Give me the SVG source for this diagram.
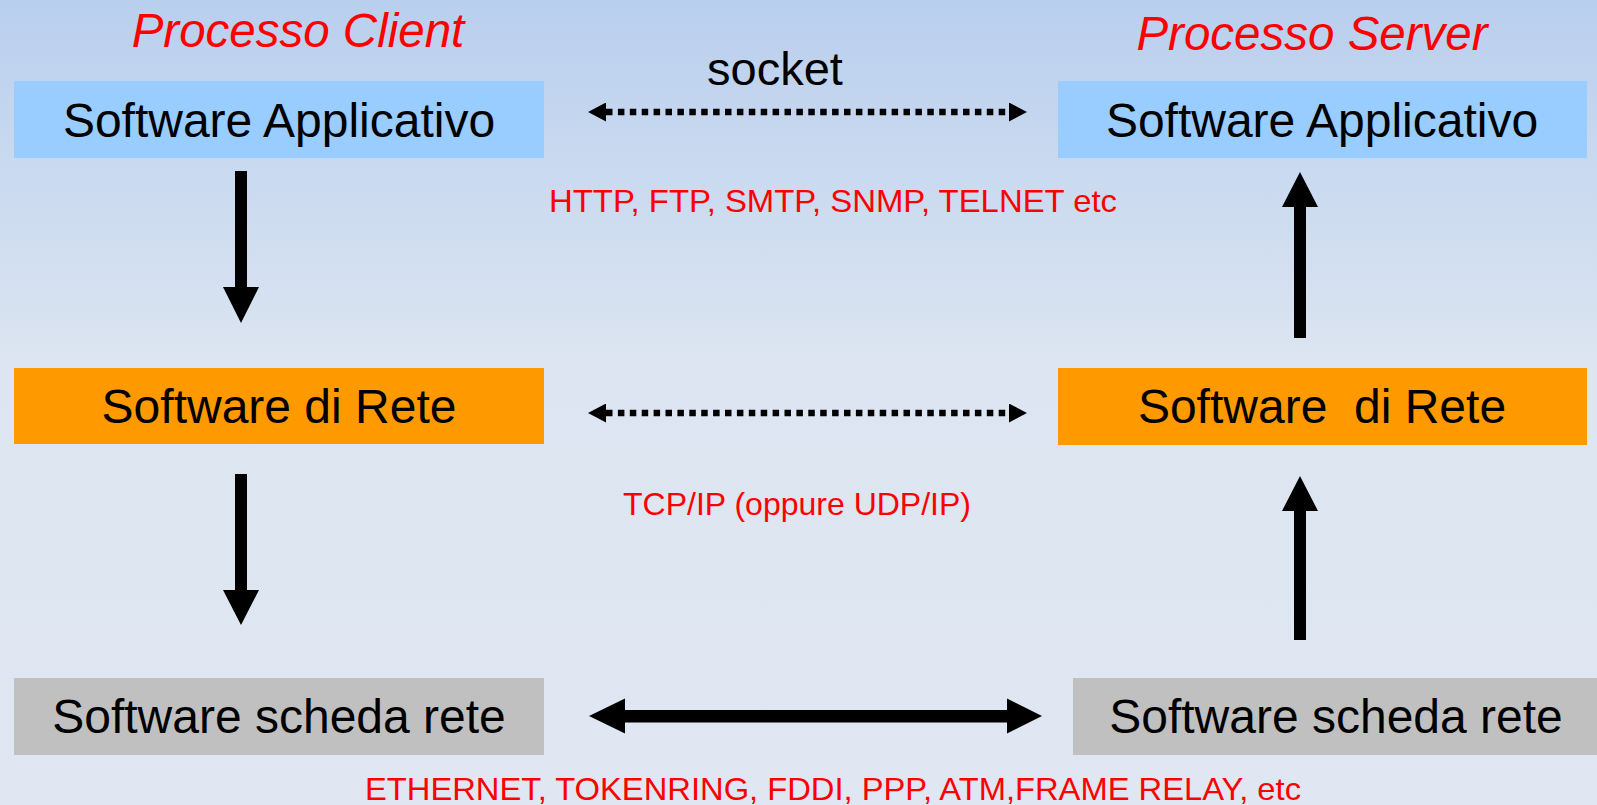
<svg xmlns="http://www.w3.org/2000/svg" width="1597" height="805" viewBox="0 0 1597 805">
  <style>
    .box-label { font-family: "Liberation Sans", Arial, sans-serif; font-size: 48px; fill: #000; text-anchor: middle; }
    .title { font-family: "Liberation Sans", Arial, sans-serif; font-size: 47.5px; font-style: italic; fill: #ff0000; text-anchor: middle; }
    .proto { font-family: "Liberation Sans", Arial, sans-serif; font-size: 32px; fill: #ff0000; text-anchor: middle; }
    .app { fill: #99ccff; }
    .net { fill: #ff9900; }
    .nic { fill: #c0c0c0; }
    .dotted { stroke: #000; stroke-width: 6.5; stroke-dasharray: 6.5 5.4; fill: none; }
    .solid-arrow { fill: #000; }
  </style>
  <defs>
    <linearGradient id="bg" x1="0" y1="0" x2="0" y2="1">
      <stop offset="0" stop-color="#b9cfee"/>
      <stop offset="0.45" stop-color="#dce5f1"/>
      <stop offset="1" stop-color="#e0e7f2"/>
    </linearGradient>
    <marker id="head" markerUnits="userSpaceOnUse" viewBox="0 0 18 19" markerWidth="18" markerHeight="19" refX="0" refY="9.5" orient="auto-start-reverse">
      <path d="M0,0 L18,9.5 L0,19 Z" fill="#000"/>
    </marker>
  </defs>

  <rect x="0" y="0" width="1597" height="805" fill="url(#bg)"/>

  <!-- column titles -->
  <text class="title" x="298" y="47">Processo Client</text>
  <text class="title" x="1312" y="50">Processo Server</text>

  <!-- client stack -->
  <g id="client-app">
    <rect class="app" x="14" y="81" width="530" height="77"/>
    <text class="box-label" x="279" y="137">Software Applicativo</text>
  </g>
  <g id="client-net">
    <rect class="net" x="14" y="368" width="530" height="76"/>
    <text class="box-label" x="279" y="423">Software di Rete</text>
  </g>
  <g id="client-nic">
    <rect class="nic" x="14" y="678" width="530" height="77"/>
    <text class="box-label" x="279" y="733">Software scheda rete</text>
  </g>

  <!-- server stack -->
  <g id="server-app">
    <rect class="app" x="1058" y="81" width="529" height="77"/>
    <text class="box-label" x="1322" y="137">Software Applicativo</text>
  </g>
  <g id="server-net">
    <rect class="net" x="1058" y="368" width="529" height="77"/>
    <text class="box-label" x="1322" y="423" xml:space="preserve">Software  di Rete</text>
  </g>
  <g id="server-nic">
    <rect class="nic" x="1073" y="678" width="524" height="77"/>
    <text class="box-label" x="1336" y="733">Software scheda rete</text>
  </g>

  <!-- connectors -->
  <g id="connectors">
    <line class="dotted" x1="606" y1="112" x2="1009" y2="112" marker-start="url(#head)" marker-end="url(#head)"/>
    <line class="dotted" x1="606" y1="413" x2="1009" y2="413" marker-start="url(#head)" marker-end="url(#head)"/>
    <path class="solid-arrow" d="M589,716 L625,698.5 V710 H1007 V698.5 L1042,716 L1007,733.5 V722.5 H625 V733.5 Z"/>
    <!-- client: downward flow -->
    <path class="solid-arrow" d="M235,171 H247 V287 H259 L241,323 L223,287 H235 Z"/>
    <path class="solid-arrow" d="M235,474 H247 V590 H259 L241,625 L223,590 H235 Z"/>
    <!-- server: upward flow -->
    <path class="solid-arrow" d="M1294,338 H1306 V207 H1318 L1300,172 L1282,207 H1294 Z"/>
    <path class="solid-arrow" d="M1294,640 H1306 V511 H1318 L1300,476 L1282,511 H1294 Z"/>
  </g>

  <!-- labels -->
  <text class="box-label" x="775" y="85" style="font-size:47px">socket</text>
  <text class="proto" x="833" y="212" textLength="568" lengthAdjust="spacingAndGlyphs">HTTP, FTP, SMTP, SNMP, TELNET etc</text>
  <text class="proto" x="797" y="515">TCP/IP (oppure UDP/IP)</text>
  <text class="proto" x="833" y="800" textLength="936" lengthAdjust="spacingAndGlyphs">ETHERNET, TOKENRING, FDDI, PPP, ATM,FRAME RELAY, etc</text>
</svg>
